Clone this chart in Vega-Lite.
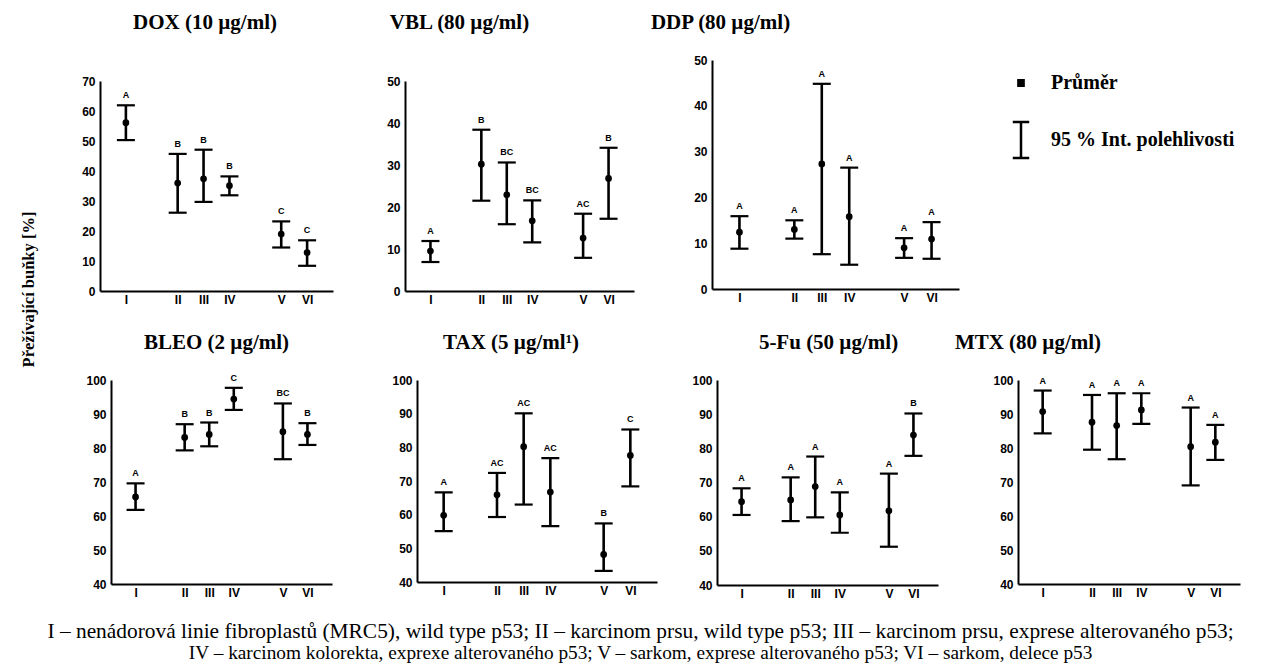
{
  "$schema": "https://vega.github.io/schema/vega-lite/v6.json",
  "background": "white",
  "padding": {"left": 21, "top": 12, "right": 5, "bottom": 5},
  "title": {
    "text": "I – nenádorová linie fibroplastů (MRC5), wild type p53; II – karcinom prsu, wild type p53; III – karcinom prsu, exprese alterovaného p53;",
    "subtitle": "IV – karcinom kolorekta, exprexe alterovaného p53; V – sarkom, exprese alterovaného p53; VI – sarkom, delece p53",
    "orient": "bottom", "anchor": "middle", "frame": "bounds", "offset": 22, "baseline": "top",
    "font": "Liberation Serif", "fontWeight": "normal", "fontSize": 21.4, "dx": 10, "color": "black",
    "subtitleFont": "Liberation Serif", "subtitleFontWeight": "normal", "subtitleFontSize": 19.3, "subtitleColor": "black", "subtitlePadding": 2
  },
  "datasets": {
    "DOX": [
      {"cell": "I", "mean": 56.1, "lo": 50.3, "hi": 61.9, "grp": "A"},
      {"cell": "II", "mean": 36.0, "lo": 26.1, "hi": 45.7, "grp": "B"},
      {"cell": "III", "mean": 37.4, "lo": 29.7, "hi": 47.1, "grp": "B"},
      {"cell": "IV", "mean": 35.1, "lo": 31.9, "hi": 38.2, "grp": "B"},
      {"cell": "V", "mean": 19.0, "lo": 14.5, "hi": 23.2, "grp": "C"},
      {"cell": "VI", "mean": 12.8, "lo": 8.4, "hi": 16.9, "grp": "C"}
    ],
    "VBL": [
      {"cell": "I", "mean": 9.5, "lo": 6.9, "hi": 11.9, "grp": "A"},
      {"cell": "II", "mean": 30.2, "lo": 21.5, "hi": 38.4, "grp": "B"},
      {"cell": "III", "mean": 22.9, "lo": 15.9, "hi": 30.6, "grp": "BC"},
      {"cell": "IV", "mean": 16.7, "lo": 11.6, "hi": 21.6, "grp": "BC"},
      {"cell": "V", "mean": 12.6, "lo": 7.9, "hi": 18.4, "grp": "AC"},
      {"cell": "VI", "mean": 26.8, "lo": 17.2, "hi": 34.1, "grp": "B"}
    ],
    "DDP": [
      {"cell": "I", "mean": 12.4, "lo": 8.8, "hi": 15.9, "grp": "A"},
      {"cell": "II", "mean": 13.0, "lo": 11.0, "hi": 15.0, "grp": "A"},
      {"cell": "III", "mean": 27.3, "lo": 7.6, "hi": 44.8, "grp": "A"},
      {"cell": "IV", "mean": 15.8, "lo": 5.3, "hi": 26.5, "grp": "A"},
      {"cell": "V", "mean": 9.0, "lo": 6.8, "hi": 11.1, "grp": "A"},
      {"cell": "VI", "mean": 10.9, "lo": 6.6, "hi": 14.6, "grp": "A"}
    ],
    "BLEO": [
      {"cell": "I", "mean": 65.6, "lo": 61.8, "hi": 69.6, "grp": "A"},
      {"cell": "II", "mean": 83.1, "lo": 79.3, "hi": 87.0, "grp": "B"},
      {"cell": "III", "mean": 84.0, "lo": 80.5, "hi": 87.5, "grp": "B"},
      {"cell": "IV", "mean": 94.4, "lo": 91.2, "hi": 97.7, "grp": "C"},
      {"cell": "V", "mean": 84.8, "lo": 76.7, "hi": 93.1, "grp": "BC"},
      {"cell": "VI", "mean": 84.0, "lo": 80.9, "hi": 87.3, "grp": "B"}
    ],
    "TAX": [
      {"cell": "I", "mean": 59.8, "lo": 55.1, "hi": 66.6, "grp": "A"},
      {"cell": "II", "mean": 65.9, "lo": 59.3, "hi": 72.4, "grp": "AC"},
      {"cell": "III", "mean": 80.2, "lo": 63.0, "hi": 90.1, "grp": "AC"},
      {"cell": "IV", "mean": 66.7, "lo": 56.6, "hi": 76.8, "grp": "AC"},
      {"cell": "V", "mean": 48.2, "lo": 43.3, "hi": 57.4, "grp": "B"},
      {"cell": "VI", "mean": 77.6, "lo": 68.4, "hi": 85.3, "grp": "C"}
    ],
    "FU": [
      {"cell": "I", "mean": 64.4, "lo": 60.5, "hi": 68.3, "grp": "A"},
      {"cell": "II", "mean": 64.9, "lo": 58.7, "hi": 71.5, "grp": "A"},
      {"cell": "III", "mean": 68.8, "lo": 59.8, "hi": 77.6, "grp": "A"},
      {"cell": "IV", "mean": 60.5, "lo": 55.3, "hi": 67.1, "grp": "A"},
      {"cell": "V", "mean": 61.7, "lo": 51.2, "hi": 72.6, "grp": "A"},
      {"cell": "VI", "mean": 83.9, "lo": 77.8, "hi": 90.2, "grp": "B"}
    ],
    "MTX": [
      {"cell": "I", "mean": 90.7, "lo": 84.3, "hi": 96.9, "grp": "A"},
      {"cell": "II", "mean": 87.6, "lo": 79.5, "hi": 95.6, "grp": "A"},
      {"cell": "III", "mean": 86.6, "lo": 76.7, "hi": 96.1, "grp": "A"},
      {"cell": "IV", "mean": 91.2, "lo": 87.1, "hi": 96.1, "grp": "A"},
      {"cell": "V", "mean": 80.4, "lo": 69.0, "hi": 91.9, "grp": "A"},
      {"cell": "VI", "mean": 81.7, "lo": 76.5, "hi": 86.8, "grp": "A"}
    ],
    "LEG": [
      {"item": "Průměr"},
      {"item": "95 % Int. polehlivosti"}
    ]
  },
  "vconcat": [
    {
      "title": {"text": "Přežívající buňky [%]", "orient": "left", "anchor": "middle", "frame": "bounds", "offset": 44, "fontSize": 16.5, "dx": 16},
      "spacing": 21,
      "vconcat": [
        {
          "spacing": 0,
          "hconcat": [
            {
              "data": {"name": "DOX"}, "width": 222, "height": 210,
              "title": {"text": "DOX (10 µg/ml)", "offset": 42, "dx": -17},
              "layer": [
                {"mark": {"type": "rule", "strokeWidth": 2.6, "color": "black"},
                 "encoding": {
                   "x": {"field": "cell", "type": "ordinal", "scale": {"type": "point", "domain": ["I","g1","II","III","IV","g2","V","VI"], "padding": 1, "range": [-11, 222]}, "axis": {"values": ["I","II","III","IV","V","VI"], "labelAngle": 0, "title": null}},
                   "y": {"field": "lo", "type": "quantitative", "title": null, "scale": {"domain": [0, 70]}, "axis": {"values": [0,10,20,30,40,50,60,70], "title": null, "offset": 11, "labelOverlap": false}},
                   "y2": {"field": "hi"}}},
                {"mark": {"type": "tick", "size": 18, "thickness": 2.2, "color": "black", "opacity": 1}, "encoding": {"x": {"field": "cell", "type": "ordinal"}, "y": {"field": "lo", "type": "quantitative", "axis": {"values": [0,10,20,30,40,50,60,70], "title": null, "offset": 11, "labelOverlap": false}}}},
                {"mark": {"type": "tick", "size": 18, "thickness": 2.2, "color": "black", "opacity": 1}, "encoding": {"x": {"field": "cell", "type": "ordinal"}, "y": {"field": "hi", "type": "quantitative", "axis": {"values": [0,10,20,30,40,50,60,70], "title": null, "offset": 11, "labelOverlap": false}}}},
                {"mark": {"type": "point"}, "encoding": {"x": {"field": "cell", "type": "ordinal"}, "y": {"field": "mean", "type": "quantitative", "axis": {"values": [0,10,20,30,40,50,60,70], "title": null, "offset": 11, "labelOverlap": false}}}},
                {"mark": {"type": "text"}, "encoding": {"x": {"field": "cell", "type": "ordinal"}, "y": {"field": "hi", "type": "quantitative", "axis": {"values": [0,10,20,30,40,50,60,70], "title": null, "offset": 11, "labelOverlap": false}}, "text": {"field": "grp"}}}
              ]
            },
            {
              "data": {"name": "VBL"}, "width": 229, "height": 210,
              "title": {"text": "VBL (80 µg/ml)", "offset": 42, "dx": -60},
              "layer": [
                {"mark": {"type": "rule", "strokeWidth": 2.6, "color": "black"},
                 "encoding": {
                   "x": {"field": "cell", "type": "ordinal", "scale": {"type": "point", "domain": ["I","g1","II","III","IV","g2","V","VI"], "padding": 1}, "axis": {"values": ["I","II","III","IV","V","VI"], "labelAngle": 0, "title": null}},
                   "y": {"field": "lo", "type": "quantitative", "title": null, "scale": {"domain": [0, 50]}, "axis": {"values": [0,10,20,30,40,50], "title": null, "minExtent": 61, "labelOverlap": false}},
                   "y2": {"field": "hi"}}},
                {"mark": {"type": "tick", "size": 18, "thickness": 2.2, "color": "black", "opacity": 1}, "encoding": {"x": {"field": "cell", "type": "ordinal"}, "y": {"field": "lo", "type": "quantitative", "axis": {"values": [0,10,20,30,40,50], "title": null, "minExtent": 61, "labelOverlap": false}}}},
                {"mark": {"type": "tick", "size": 18, "thickness": 2.2, "color": "black", "opacity": 1}, "encoding": {"x": {"field": "cell", "type": "ordinal"}, "y": {"field": "hi", "type": "quantitative", "axis": {"values": [0,10,20,30,40,50], "title": null, "minExtent": 61, "labelOverlap": false}}}},
                {"mark": {"type": "point"}, "encoding": {"x": {"field": "cell", "type": "ordinal"}, "y": {"field": "mean", "type": "quantitative", "axis": {"values": [0,10,20,30,40,50], "title": null, "minExtent": 61, "labelOverlap": false}}}},
                {"mark": {"type": "text"}, "encoding": {"x": {"field": "cell", "type": "ordinal"}, "y": {"field": "hi", "type": "quantitative", "axis": {"values": [0,10,20,30,40,50], "title": null, "minExtent": 61, "labelOverlap": false}}, "text": {"field": "grp"}}}
              ]
            },
            {
              "width": 247, "height": 208,
              "title": {"text": "DDP (80 µg/ml)", "offset": 21, "dx": -115},
              "layer": [
                {"data": {"name": "DDP"},
                 "mark": {"type": "rule", "strokeWidth": 2.6, "color": "black"},
                 "encoding": {
                   "x": {"field": "cell", "type": "ordinal", "scale": {"type": "point", "domain": ["I","g1","II","III","IV","g2","V","VI"], "padding": 1}, "axis": {"values": ["I","II","III","IV","V","VI"], "labelAngle": 0, "title": null}},
                   "y": {"field": "lo", "type": "quantitative", "title": null, "scale": {"domain": [0, 50], "range": [208, -21]}, "axis": {"values": [0,10,20,30,40,50], "title": null, "minExtent": 78, "labelOverlap": false}},
                   "y2": {"field": "hi"}}},
                {"data": {"name": "DDP"}, "mark": {"type": "tick", "size": 18, "thickness": 2.2, "color": "black", "opacity": 1}, "encoding": {"x": {"field": "cell", "type": "ordinal"}, "y": {"field": "lo", "type": "quantitative", "axis": {"values": [0,10,20,30,40,50], "title": null, "minExtent": 78, "labelOverlap": false}}}},
                {"data": {"name": "DDP"}, "mark": {"type": "tick", "size": 18, "thickness": 2.2, "color": "black", "opacity": 1}, "encoding": {"x": {"field": "cell", "type": "ordinal"}, "y": {"field": "hi", "type": "quantitative", "axis": {"values": [0,10,20,30,40,50], "title": null, "minExtent": 78, "labelOverlap": false}}}},
                {"data": {"name": "DDP"}, "mark": {"type": "point"}, "encoding": {"x": {"field": "cell", "type": "ordinal"}, "y": {"field": "mean", "type": "quantitative", "axis": {"values": [0,10,20,30,40,50], "title": null, "minExtent": 78, "labelOverlap": false}}}},
                {"data": {"name": "DDP"}, "mark": {"type": "text"}, "encoding": {"x": {"field": "cell", "type": "ordinal"}, "y": {"field": "hi", "type": "quantitative", "axis": {"values": [0,10,20,30,40,50], "title": null, "minExtent": 78, "labelOverlap": false}}, "text": {"field": "grp"}}},
                {"data": {"name": "LEG"},
                 "mark": {"type": "point", "filled": false, "opacity": 0, "strokeWidth": 2.5},
                 "encoding": {
                   "shape": {"field": "item", "type": "nominal",
                     "scale": {"domain": ["Průměr", "95 % Int. polehlivosti"], "range": ["M-1.4,-1L1.4,-1M-1.4,-0.5L1.4,-0.5M-1.4,0L1.4,0M-1.4,0.5L1.4,0.5M-1.4,1L1.4,1", "M-3,-6.6L3,-6.6M0,-6.6L0,6.6M-3,6.6L3,6.6"]},
                     "legend": {"title": null, "orient": "none", "legendX": 299, "legendY": -8,
                       "labelFont": "Liberation Serif", "labelFontSize": 20, "labelFontWeight": "bold", "labelColor": "black", "labelLimit": 0,
                       "symbolSize": 30, "symbolFillColor": "black", "symbolStrokeColor": "black", "symbolStrokeWidth": 2.5, "symbolOpacity": 1,
                       "rowPadding": 23, "labelOffset": 20}}}}
              ],
              "resolve": {"scale": {"shape": "independent"}, "legend": {"shape": "independent"}}
            }
          ]
        },
        {
          "spacing": 0,
          "hconcat": [
            {
              "data": {"name": "BLEO"}, "width": 221, "height": 204,
              "title": {"text": "BLEO (2 µg/ml)", "offset": 21, "dx": -5},
              "layer": [
                {"mark": {"type": "rule", "strokeWidth": 2.6, "color": "black"},
                 "encoding": {
                   "x": {"field": "cell", "type": "ordinal", "scale": {"type": "point", "domain": ["I","g1","II","III","IV","g2","V","VI"], "padding": 1}, "axis": {"values": ["I","II","III","IV","V","VI"], "labelAngle": 0, "title": null}},
                   "y": {"field": "lo", "type": "quantitative", "title": null, "scale": {"domain": [40, 100]}, "axis": {"values": [40,50,60,70,80,90,100], "title": null, "labelOverlap": false}},
                   "y2": {"field": "hi"}}},
                {"mark": {"type": "tick", "size": 18, "thickness": 2.2, "color": "black", "opacity": 1}, "encoding": {"x": {"field": "cell", "type": "ordinal"}, "y": {"field": "lo", "type": "quantitative", "axis": {"values": [40,50,60,70,80,90,100], "title": null, "labelOverlap": false}}}},
                {"mark": {"type": "tick", "size": 18, "thickness": 2.2, "color": "black", "opacity": 1}, "encoding": {"x": {"field": "cell", "type": "ordinal"}, "y": {"field": "hi", "type": "quantitative", "axis": {"values": [40,50,60,70,80,90,100], "title": null, "labelOverlap": false}}}},
                {"mark": {"type": "point"}, "encoding": {"x": {"field": "cell", "type": "ordinal"}, "y": {"field": "mean", "type": "quantitative", "axis": {"values": [40,50,60,70,80,90,100], "title": null, "labelOverlap": false}}}},
                {"mark": {"type": "text"}, "encoding": {"x": {"field": "cell", "type": "ordinal"}, "y": {"field": "hi", "type": "quantitative", "axis": {"values": [40,50,60,70,80,90,100], "title": null, "labelOverlap": false}}, "text": {"field": "grp"}}}
              ]
            },
            {
              "data": {"name": "TAX"}, "width": 240, "height": 202,
              "title": {"text": "TAX (5 µg/ml¹)", "offset": 21, "dx": -26},
              "layer": [
                {"mark": {"type": "rule", "strokeWidth": 2.6, "color": "black"},
                 "encoding": {
                   "x": {"field": "cell", "type": "ordinal", "scale": {"type": "point", "domain": ["I","g1","II","III","IV","g2","V","VI"], "padding": 1}, "axis": {"values": ["I","II","III","IV","V","VI"], "labelAngle": 0, "title": null}},
                   "y": {"field": "lo", "type": "quantitative", "title": null, "scale": {"domain": [40, 100]}, "axis": {"values": [40,50,60,70,80,90,100], "title": null, "minExtent": 85, "labelOverlap": false}},
                   "y2": {"field": "hi"}}},
                {"mark": {"type": "tick", "size": 18, "thickness": 2.2, "color": "black", "opacity": 1}, "encoding": {"x": {"field": "cell", "type": "ordinal"}, "y": {"field": "lo", "type": "quantitative", "axis": {"values": [40,50,60,70,80,90,100], "title": null, "minExtent": 85, "labelOverlap": false}}}},
                {"mark": {"type": "tick", "size": 18, "thickness": 2.2, "color": "black", "opacity": 1}, "encoding": {"x": {"field": "cell", "type": "ordinal"}, "y": {"field": "hi", "type": "quantitative", "axis": {"values": [40,50,60,70,80,90,100], "title": null, "minExtent": 85, "labelOverlap": false}}}},
                {"mark": {"type": "point"}, "encoding": {"x": {"field": "cell", "type": "ordinal"}, "y": {"field": "mean", "type": "quantitative", "axis": {"values": [40,50,60,70,80,90,100], "title": null, "minExtent": 85, "labelOverlap": false}}}},
                {"mark": {"type": "text"}, "encoding": {"x": {"field": "cell", "type": "ordinal"}, "y": {"field": "hi", "type": "quantitative", "axis": {"values": [40,50,60,70,80,90,100], "title": null, "minExtent": 85, "labelOverlap": false}}, "text": {"field": "grp"}}}
              ]
            },
            {
              "data": {"name": "FU"}, "width": 221, "height": 205,
              "title": {"text": "5-Fu (50 µg/ml)", "offset": 21, "dx": 1},
              "layer": [
                {"mark": {"type": "rule", "strokeWidth": 2.6, "color": "black"},
                 "encoding": {
                   "x": {"field": "cell", "type": "ordinal", "scale": {"type": "point", "domain": ["I","g1","II","III","IV","g2","V","VI"], "padding": 1}, "axis": {"values": ["I","II","III","IV","V","VI"], "labelAngle": 0, "title": null}},
                   "y": {"field": "lo", "type": "quantitative", "title": null, "scale": {"domain": [40, 100]}, "axis": {"values": [40,50,60,70,80,90,100], "title": null, "minExtent": 60, "labelOverlap": false}},
                   "y2": {"field": "hi"}}},
                {"mark": {"type": "tick", "size": 18, "thickness": 2.2, "color": "black", "opacity": 1}, "encoding": {"x": {"field": "cell", "type": "ordinal"}, "y": {"field": "lo", "type": "quantitative", "axis": {"values": [40,50,60,70,80,90,100], "title": null, "minExtent": 60, "labelOverlap": false}}}},
                {"mark": {"type": "tick", "size": 18, "thickness": 2.2, "color": "black", "opacity": 1}, "encoding": {"x": {"field": "cell", "type": "ordinal"}, "y": {"field": "hi", "type": "quantitative", "axis": {"values": [40,50,60,70,80,90,100], "title": null, "minExtent": 60, "labelOverlap": false}}}},
                {"mark": {"type": "point"}, "encoding": {"x": {"field": "cell", "type": "ordinal"}, "y": {"field": "mean", "type": "quantitative", "axis": {"values": [40,50,60,70,80,90,100], "title": null, "minExtent": 60, "labelOverlap": false}}}},
                {"mark": {"type": "text"}, "encoding": {"x": {"field": "cell", "type": "ordinal"}, "y": {"field": "hi", "type": "quantitative", "axis": {"values": [40,50,60,70,80,90,100], "title": null, "minExtent": 60, "labelOverlap": false}}, "text": {"field": "grp"}}}
              ]
            },
            {
              "data": {"name": "MTX"}, "width": 222, "height": 204,
              "title": {"text": "MTX (80 µg/ml)", "offset": 21, "dx": -101},
              "layer": [
                {"mark": {"type": "rule", "strokeWidth": 2.6, "color": "black"},
                 "encoding": {
                   "x": {"field": "cell", "type": "ordinal", "scale": {"type": "point", "domain": ["I","g1","II","III","IV","g2","V","VI"], "padding": 1}, "axis": {"values": ["I","II","III","IV","V","VI"], "labelAngle": 0, "title": null}},
                   "y": {"field": "lo", "type": "quantitative", "title": null, "scale": {"domain": [40, 100]}, "axis": {"values": [40,50,60,70,80,90,100], "title": null, "minExtent": 80, "labelOverlap": false}},
                   "y2": {"field": "hi"}}},
                {"mark": {"type": "tick", "size": 18, "thickness": 2.2, "color": "black", "opacity": 1}, "encoding": {"x": {"field": "cell", "type": "ordinal"}, "y": {"field": "lo", "type": "quantitative", "axis": {"values": [40,50,60,70,80,90,100], "title": null, "minExtent": 80, "labelOverlap": false}}}},
                {"mark": {"type": "tick", "size": 18, "thickness": 2.2, "color": "black", "opacity": 1}, "encoding": {"x": {"field": "cell", "type": "ordinal"}, "y": {"field": "hi", "type": "quantitative", "axis": {"values": [40,50,60,70,80,90,100], "title": null, "minExtent": 80, "labelOverlap": false}}}},
                {"mark": {"type": "point"}, "encoding": {"x": {"field": "cell", "type": "ordinal"}, "y": {"field": "mean", "type": "quantitative", "axis": {"values": [40,50,60,70,80,90,100], "title": null, "minExtent": 80, "labelOverlap": false}}}},
                {"mark": {"type": "text"}, "encoding": {"x": {"field": "cell", "type": "ordinal"}, "y": {"field": "hi", "type": "quantitative", "axis": {"values": [40,50,60,70,80,90,100], "title": null, "minExtent": 80, "labelOverlap": false}}, "text": {"field": "grp"}}}
              ]
            }
          ]
        }
      ]
    }
  ],
  "config": {
    "view": {"stroke": null},
    "axis": {"grid": false, "ticks": false, "domainColor": "black", "domainWidth": 2, "labelFont": "Liberation Sans", "labelFontWeight": "bold", "labelFontSize": 12, "labelColor": "black", "labelPadding": 3, "labelOverlap": false},
    "axisY": {"labelPadding": 5},
    "title": {"font": "Liberation Serif", "fontWeight": "bold", "fontSize": 21, "color": "black", "frame": "group", "anchor": "middle"},
    "point": {"filled": true, "size": 45, "color": "black", "opacity": 1, "shape": "circle"},
    "text": {"baseline": "bottom", "dy": -5, "font": "Liberation Sans", "fontWeight": "bold", "fontSize": 9, "color": "black"}
  }
}
